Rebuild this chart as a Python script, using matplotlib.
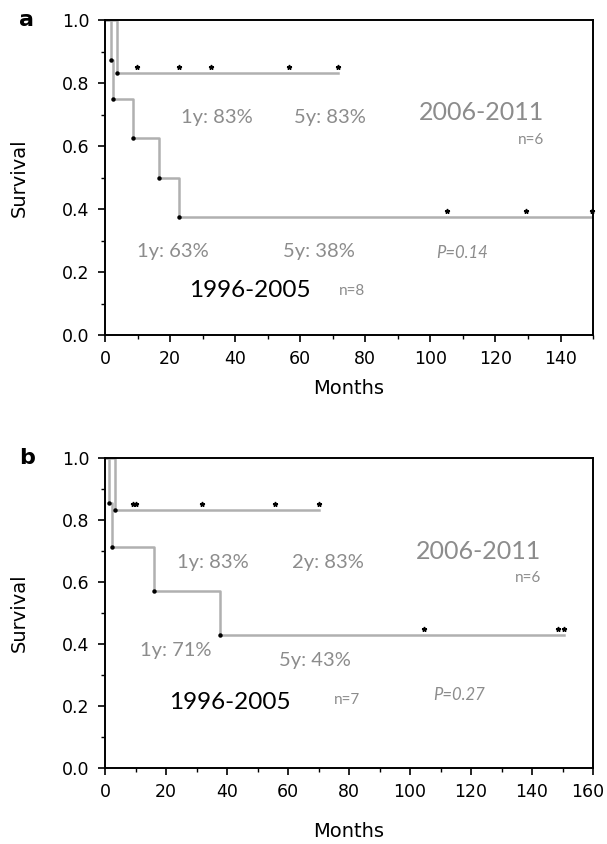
import matplotlib
matplotlib.use("Agg")
import matplotlib.pyplot as plt
import matplotlib.transforms as mtransforms
from matplotlib.ticker import MultipleLocator

# panel a: 1996-2005 (n=8) and 2006-2011 (n=6)
a_early_t = [0, 1.8, 2.6, 8.7, 16.6, 22.6, 150]
a_early_s = [1.0, 0.875, 0.75, 0.625, 0.5, 0.375, 0.375]
a_early_cens = [105, 129.5, 149.7]
a_late_t = [0, 3.6, 71.5]
a_late_s = [1.0, 0.833, 0.833]
a_late_cens = [9.7, 22.6, 32.5, 56.5, 71.5]

# panel b: 1996-2005 (n=7) and 2006-2011 (n=6)
b_early_t = [0, 1.4, 2.2, 16.2, 37.7, 150.5]
b_early_s = [1.0, 0.857, 0.714, 0.571, 0.429, 0.429]
b_early_cens = [104.5, 148.5, 150.5]
b_late_t = [0, 3.3, 70.3]
b_late_s = [1.0, 0.833, 0.833]
b_late_cens = [9.3, 10.3, 31.7, 55.7, 70.3]

LINE = "#b0b0b0"
TXT = "#8c8c8c"
ANN_FONT = "Lato"


def km_panel(ax, t1, s1, c1, t2, s2, c2, xmax, xpad):
    for t, s in [(t1, s1), (t2, s2)]:
        ax.plot(t, s, drawstyle="steps-post", color=LINE, lw=1.8, zorder=2)
        # dots at event corners
        ax.plot(t[1:-1], s[1:-1], ls="none", marker="o", ms=2.2, color="black", zorder=3)
    # censor marks drawn slightly above the curve
    off = mtransforms.ScaledTranslation(0, 6 / 100, ax.figure.dpi_scale_trans)
    for c, lvl in [(c1, s1[-1]), (c2, s2[-1])]:
        ax.plot(c, [lvl] * len(c), ls="none", marker="*", ms=3.5, color="black",
                transform=ax.transData + off, zorder=3, clip_on=False)
    ax.set_xlim(0, xmax)
    ax.set_ylim(0, 1.0)
    ax.xaxis.set_major_locator(MultipleLocator(20))
    ax.xaxis.set_minor_locator(MultipleLocator(10))
    ax.yaxis.set_major_locator(MultipleLocator(0.2))
    ax.yaxis.set_minor_locator(MultipleLocator(0.1))
    ax.yaxis.set_major_formatter(plt.FormatStrFormatter("%.1f"))
    ax.tick_params(which="major", direction="out", length=5, width=1.2, labelsize=12.5, pad=6)
    ax.tick_params(which="minor", direction="out", length=3, width=1.0)
    for sp in ax.spines.values():
        sp.set_linewidth(1.4)
    ax.set_ylabel("Survival", fontsize=14, labelpad=24)
    ax.set_xlabel("Months", fontsize=14, labelpad=xpad)


fig = plt.figure(figsize=(6.07, 8.44), dpi=100)
ax1 = fig.add_axes([0.173, 0.603, 0.804, 0.373])
ax2 = fig.add_axes([0.173, 0.090, 0.804, 0.367])

km_panel(ax1, a_early_t, a_early_s, a_early_cens, a_late_t, a_late_s, a_late_cens, 150, 8)
km_panel(ax2, b_early_t, b_early_s, b_early_cens, b_late_t, b_late_s, b_late_cens, 160, 15)

kw = dict(ha="center", va="center", family=ANN_FONT)
# annotations panel a
ax1.text(34.5, 0.69, "1y: 83%", color=TXT, fontsize=14.5, **kw)
ax1.text(69, 0.69, "5y: 83%", color=TXT, fontsize=14.5, **kw)
ax1.text(115.7, 0.708, "2006-2011", color=TXT, fontsize=18, **kw)
ax1.text(131, 0.62, "n=6", color=TXT, fontsize=11, **kw)
ax1.text(20.8, 0.264, "1y: 63%", color=TXT, fontsize=14.5, **kw)
ax1.text(65.7, 0.264, "5y: 38%", color=TXT, fontsize=14.5, **kw)
ax1.text(109.7, 0.26, "P=0.14", color=TXT, fontsize=12, style="italic", **kw)
ax1.text(44.6, 0.143, "1996-2005", color="black", fontsize=17.5, **kw)
ax1.text(76, 0.14, "n=8", color=TXT, fontsize=11, **kw)

# annotations panel b
ax2.text(35.2, 0.665, "1y: 83%", color=TXT, fontsize=14.5, **kw)
ax2.text(73, 0.665, "2y: 83%", color=TXT, fontsize=14.5, **kw)
ax2.text(122.6, 0.698, "2006-2011", color=TXT, fontsize=18, **kw)
ax2.text(138.7, 0.613, "n=6", color=TXT, fontsize=11, **kw)
ax2.text(23.2, 0.38, "1y: 71%", color=TXT, fontsize=14.5, **kw)
ax2.text(68.9, 0.348, "5y: 43%", color=TXT, fontsize=14.5, **kw)
ax2.text(116.2, 0.235, "P=0.27", color=TXT, fontsize=12, style="italic", **kw)
ax2.text(41, 0.21, "1996-2005", color="black", fontsize=17.5, **kw)
ax2.text(79.3, 0.22, "n=7", color=TXT, fontsize=11, **kw)

fig.text(0.044, 0.976, "a", fontsize=16, fontweight="bold", va="center", ha="center")
fig.text(0.044, 0.457, "b", fontsize=16, fontweight="bold", va="center", ha="center")

# "160" sits right at the figure edge, nudge it left so it is not clipped
fig.canvas.draw()
locs = list(ax2.xaxis.get_majorticklocs())
ticks = ax2.xaxis.get_major_ticks(len(locs))
idx = [i for i, v in enumerate(locs) if abs(v - 160) < 1e-6][0]
nudge = mtransforms.ScaledTranslation(-5 / 100, 0, fig.dpi_scale_trans)
ticks[idx].label1.set_transform(ticks[idx].label1.get_transform() + nudge)

fig.savefig("out.png", dpi=100)
